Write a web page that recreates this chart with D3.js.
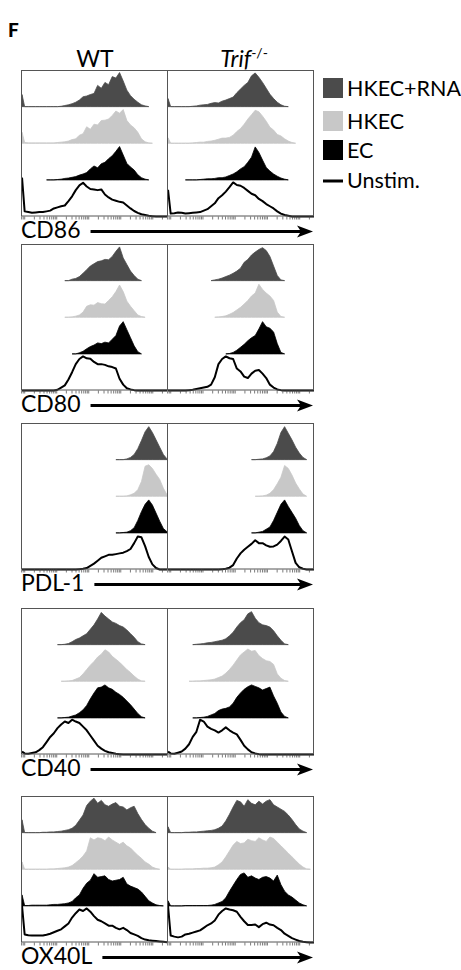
<!DOCTYPE html>
<html><head><meta charset="utf-8">
<script src="https://cdn.jsdelivr.net/npm/d3@7/dist/d3.min.js"></script>
<style>body{margin:0;background:#fff} svg{display:block}</style>
</head><body>
<svg id="chart" width="461" height="970"></svg>
<script>
const _ = null;
// ---------- categories ----------
const markers = ["CD86", "CD80", "PDL-1", "CD40", "OX40L"];
const genotypes = ["WT", "Trif"];
const conditions = ["HKEC+RNA", "HKEC", "EC", "Unstim."];
// fluorescence bins (percent of each sub-panel axis)
const binPos = [0.7,2.5,5,7.5,10,12.5,15,17.5,20,22.5,25,27.5,30,32.5,35,37.5,40,42.5,45,47.5,50,52.5,55,57.5,60,62.5,65,67.5,70,72.5,75,77.5,80,82.5,85,87.5,90,92.5,95,97.5,100];
// axis decades (log, no labels)
const axisDomain = [7.94, 288000];

// ---------- series values (relative counts, % of row height) ----------
// CD86
const cd86_wt_rna  = [33,0,0,0,0,0,0,0,0,0, 0,1,3,5,8,12,18,27,29,33, 36,58,50,66,60,82,78,93,70,45, 30,20,12,5,2,0,_,_,_,_, _];
const cd86_wt_hkec = [30,2,1,1,1,1,1,1,1,1, 2,3,4,6,10,12,22,26,45,38, 52,50,62,63,66,76,88,82,92,62, 50,42,30,12,4,1,0,_,_,_, _];
const cd86_wt_ec   = [_,_,_,_,_,_,_,0,0,0, 1,2,4,5,7,9,13,16,20,30, 38,33,44,48,58,66,78,91,68,45, 35,27,14,6,2,0,_,_,_,_, _];
const cd86_wt_un   = [106,14,12,10,11,12,12,14,16,22, 25,28,30,42,55,72,85,92,82,75, 74,72,74,60,52,46,43,40,38,30, 22,15,10,6,4,2,1,0,0,0, 0];
const cd86_tr_rna  = [22,0,0,0,0,0,0,1,2,4, 5,6,9,11,10,15,18,22,26,38, 48,58,66,84,92,80,66,50,34,22, 12,5,1,0,_,_,_,_,_,_, _];
const cd86_tr_hkec = [15,0,0,0,0,0,0,1,2,3, 3,5,6,8,11,14,14,16,22,32, 40,52,66,78,90,86,74,60,44,36, 24,20,12,6,2,0,_,_,_,_, _];
const cd86_tr_ec   = [_,_,_,_,_,0,0,0,0,1, 2,3,3,4,6,6,8,12,16,22, 30,36,48,62,90,75,54,34,24,16, 10,5,2,0,_,_,_,_,_,_, _];
const cd86_tr_un   = [73,8,9,11,10,8,9,10,11,12, 16,20,28,36,50,58,68,80,93,86, 84,78,70,62,58,48,42,34,28,22, 14,8,4,2,0,0,0,0,0,0, 0];
// CD80
const cd80_wt_rna  = [_,_,_,_,_,_,_,_,_,_, _,_,0,0,4,6,11,20,30,40, 46,52,54,58,57,66,80,92,62,44, 26,14,4,0,_,_,_,_,_,_, _];
const cd80_wt_hkec = [_,_,_,_,_,_,_,_,_,_, _,_,0,0,1,3,6,14,30,34, 33,40,37,36,46,56,70,88,70,44, 30,18,6,2,0,_,_,_,_,_, _];
const cd80_wt_ec   = [_,_,_,_,_,_,_,_,_,_, _,_,_,_,0,0,3,7,14,20, 24,30,28,32,30,40,50,76,88,66, 44,22,6,0,_,_,_,_,_,_, _];
const cd80_wt_un   = [0,0,0,0,0,0,0,0,0,0, 2,8,14,30,50,72,86,93,88,87, 78,72,72,70,66,64,60,32,16,6, 3,1,0,0,0,0,0,0,0,0, 0];
const cd80_tr_rna  = [_,_,_,_,_,_,_,_,_,_, _,_,0,2,4,7,11,15,20,26, 34,50,58,70,78,85,90,82,66,40, 14,2,0,_,_,_,_,_,_,_, _];
const cd80_tr_hkec = [_,_,_,_,_,_,_,_,_,_, _,_,_,0,1,2,4,8,13,20, 27,36,46,58,66,90,76,66,58,46, 14,2,0,_,_,_,_,_,_,_, _];
const cd80_tr_ec   = [_,_,_,_,_,_,_,_,_,_, _,_,_,_,_,_,0,1,4,10, 18,26,36,44,50,68,88,74,70,60, 28,4,0,_,_,_,_,_,_,_, _];
const cd80_tr_un   = [0,0,0,0,0,0,1,2,4,6, 8,10,16,36,72,86,93,88,86,60, 52,38,34,46,54,56,46,34,16,8, 3,1,0,0,0,0,0,0,0,0, 0];
// PDL-1
const pdl1_wt_rna  = [_,_,_,_,_,_,_,_,_,_, _,_,_,_,_,_,_,_,_,_, _,_,_,_,_,_,0,0,0,2, 6,14,30,52,76,90,74,54,34,14, 2];
const pdl1_wt_hkec = [_,_,_,_,_,_,_,_,_,_, _,_,_,_,_,_,_,_,_,_, _,_,_,_,_,_,0,0,0,1, 4,8,18,40,82,86,76,60,46,22, 4];
const pdl1_wt_ec   = [_,_,_,_,_,_,_,_,_,_, _,_,_,_,_,_,_,_,_,_, _,_,_,_,_,_,0,0,1,2, 6,14,34,58,78,90,76,54,32,12, 3];
const pdl1_wt_un   = [0,0,0,0,0,0,0,0,0,0, 0,0,0,0,0,0,1,2,4,10, 16,24,32,36,40,40,42,44,46,50, 56,72,90,88,64,34,14,4,0,0, 0];
const pdl1_tr_rna  = [_,_,_,_,_,_,_,_,_,_, _,_,_,_,_,_,_,_,_,_, _,_,_,0,0,1,2,5,10,22, 44,74,90,72,54,34,18,6,0,_, _];
const pdl1_tr_hkec = [_,_,_,_,_,_,_,_,_,_, _,_,_,_,_,_,_,_,_,_, _,_,_,_,0,0,1,3,8,18, 34,52,84,76,58,36,20,6,0,_, _];
const pdl1_tr_ec   = [_,_,_,_,_,_,_,_,_,_, _,_,_,_,_,_,_,_,_,_, _,_,_,0,0,2,4,10,16,34, 56,78,90,72,56,40,20,6,0,_, _];
const pdl1_tr_un   = [0,0,0,0,0,0,0,0,0,0, 0,0,0,0,0,1,2,5,12,30, 44,54,62,70,80,72,72,66,62,63, 68,78,90,82,50,18,6,2,0,0, 0];
// CD40
const cd40_wt_rna  = [_,_,_,_,_,_,_,_,_,_, 0,0,1,3,8,14,18,24,30,42, 54,70,88,78,70,62,58,52,48,40, 30,20,8,2,0,_,_,_,_,_, _];
const cd40_wt_hkec = [_,_,_,_,_,_,_,_,_,_, _,0,0,1,2,6,10,20,32,44, 54,66,74,86,80,68,60,52,42,32, 24,14,6,1,0,_,_,_,_,_, _];
const cd40_wt_ec   = [_,_,_,_,_,_,_,_,_,_, 0,0,1,2,5,8,14,22,34,52, 68,82,84,90,82,78,70,64,56,46, 36,24,12,3,0,_,_,_,_,_, _];
const cd40_wt_un   = [8,3,2,4,6,12,20,34,48,58, 72,82,90,86,95,90,86,76,66,52, 38,24,16,10,6,4,2,1,0,0, 0,0,0,0,0,0,0,0,0,0, 0];
const cd40_tr_rna  = [_,_,_,_,_,_,_,0,1,2, 3,5,6,8,10,12,16,24,34,48, 60,68,84,90,72,60,54,52,48,38, 24,12,2,0,_,_,_,_,_,_, _];
const cd40_tr_hkec = [_,_,_,_,_,_,0,0,1,1, 2,3,4,6,10,14,22,32,44,58, 72,80,88,82,84,70,62,56,54,46, 20,8,2,0,_,_,_,_,_,_, _];
const cd40_tr_ec   = [_,_,_,_,_,_,_,0,0,1, 2,4,8,12,20,24,26,30,40,56, 68,78,85,90,86,82,76,80,84,60, 40,16,4,0,_,_,_,_,_,_, _];
const cd40_tr_un   = [8,3,2,5,8,16,28,48,62,95, 90,76,70,66,60,66,74,66,60,55, 40,24,14,6,3,1,0,0,0,0, 0,0,0,0,0,0,0,0,0,0, 0];
// OX40L
const ox40l_wt_rna  = [35,0,0,0,0,0,1,1,2,2, 3,4,6,8,12,20,34,48,74,86, 94,80,88,76,72,78,82,72,70,62, 68,72,52,36,22,12,4,0,_,_, _];
const ox40l_wt_hkec = [20,0,0,0,0,0,0,0,1,1, 2,3,4,6,10,18,26,36,50,86, 80,86,84,78,88,80,74,68,74,64, 58,48,38,30,20,14,6,2,0,_, _];
const ox40l_wt_ec   = [30,1,1,2,2,2,2,2,3,4, 4,5,6,8,12,22,30,48,62,70, 88,78,80,82,72,68,70,72,78,60, 54,50,46,38,26,14,8,3,1,0, _];
const ox40l_wt_un   = [100,22,20,19,19,19,19,21,24,28, 32,36,44,52,68,80,90,86,93,84, 72,62,58,52,46,46,40,36,40,34, 26,22,18,12,8,6,5,4,3,2, 1];
const ox40l_tr_rna  = [16,0,0,0,0,1,1,2,2,3, 4,5,6,8,12,18,32,50,70,88, 84,72,90,80,76,86,78,86,90,76, 70,64,58,48,36,22,10,4,0,_, _];
const ox40l_tr_hkec = [6,0,0,0,0,1,1,1,2,2, 3,3,4,6,12,20,34,50,66,76, 70,72,82,78,76,86,80,76,88,84, 74,64,54,44,34,24,14,6,1,0, _];
const ox40l_tr_ec   = [14,0,0,0,0,1,1,1,1,1, 1,1,2,4,8,12,22,40,56,72, 86,90,78,82,76,72,78,80,76,68, 84,58,40,30,24,16,8,3,0,_, _];
const ox40l_tr_un   = [100,19,16,14,16,22,24,27,30,33, 40,47,52,60,76,86,93,90,88,84, 70,58,48,48,49,42,50,54,49,47, 40,34,24,18,12,8,4,2,1,0, 0];

const seriesTable = {
  "CD86":  [[cd86_wt_rna, cd86_wt_hkec, cd86_wt_ec, cd86_wt_un], [cd86_tr_rna, cd86_tr_hkec, cd86_tr_ec, cd86_tr_un]],
  "CD80":  [[cd80_wt_rna, cd80_wt_hkec, cd80_wt_ec, cd80_wt_un], [cd80_tr_rna, cd80_tr_hkec, cd80_tr_ec, cd80_tr_un]],
  "PDL-1": [[pdl1_wt_rna, pdl1_wt_hkec, pdl1_wt_ec, pdl1_wt_un], [pdl1_tr_rna, pdl1_tr_hkec, pdl1_tr_ec, pdl1_tr_un]],
  "CD40":  [[cd40_wt_rna, cd40_wt_hkec, cd40_wt_ec, cd40_wt_un], [cd40_tr_rna, cd40_tr_hkec, cd40_tr_ec, cd40_tr_un]],
  "OX40L": [[ox40l_wt_rna, ox40l_wt_hkec, ox40l_wt_ec, ox40l_wt_un], [ox40l_tr_rna, ox40l_tr_hkec, ox40l_tr_ec, ox40l_tr_un]]
};

// ---------- layout ----------
const FONT = "Lato, 'Open Sans', sans-serif";
const panelTops = [70, 244, 423, 608, 796];
const panelH = 146.5;
const subX = [21, 167];
const subW = [146, 147];
const fills = ["#4b4b4b", "#c8c8c8", "#000000"];
const svg = d3.select("#chart");

// title + headers
svg.append("text").attr("x", 8).attr("y", 37).attr("font-family", FONT).attr("font-weight", 900)
  .attr("font-size", 19).text("F");
svg.append("text").attr("x", 95).attr("y", 67).attr("text-anchor", "middle").attr("font-family", FONT)
  .attr("font-size", 23).text("WT");
const th = svg.append("text").attr("x", 244).attr("y", 67).attr("text-anchor", "middle")
  .attr("font-family", FONT).attr("font-size", 23);
th.append("tspan").attr("font-style", "italic").text("Trif");
th.append("tspan").attr("font-size", 14).attr("dy", -9).text("-/-");

const xs = subX.map((x0, g) => d3.scaleLinear().domain([0, 100]).range([x0, x0 + subW[g]]));
const xAxisScales = subX.map((x0, g) => d3.scaleLog().domain(axisDomain).range([x0, x0 + subW[g]]));
const rowH = panelH / 4;
const yv = d3.scaleLinear().domain([0, 100]).range([0, rowH]);

markers.forEach((m, mi) => {
  const top = panelTops[mi], bottom = top + panelH;
  const pg = svg.append("g");
  genotypes.forEach((gname, g) => {
    const sx = xs[g];
    seriesTable[m][g].forEach((vals, r) => {
      const base = top + (r + 1) * rowH;
      const pts = binPos.map((p, i) => [p, vals[i]]);
      if (r < 3) {
        const area = d3.area().defined(d => d[1] != null)
          .x(d => sx(d[0])).y0(base).y1(d => base - yv(d[1]));
        pg.append("path").attr("d", area(pts)).attr("fill", fills[r])
          .attr("stroke", fills[r]).attr("stroke-width", 0.8);
      } else {
        const line = d3.line().defined(d => d[1] != null)
          .x(d => sx(d[0])).y(d => base - yv(d[1]));
        pg.append("path").attr("d", line(pts)).attr("fill", "none")
          .attr("stroke", "#000").attr("stroke-width", 2).attr("stroke-linejoin", "round");
      }
    });
    // tick marks under the sub-panel
    const ax = d3.axisBottom(xAxisScales[g]).ticks(10).tickSize(3).tickFormat("");
    const ag = pg.append("g").attr("transform", `translate(0,${bottom})`).call(ax);
    ag.select(".domain").remove();
    ag.selectAll("line").attr("stroke", "#444").attr("stroke-width", 0.7);
  });
  // frame
  pg.append("rect").attr("x", subX[0] + 0.5).attr("y", top + 0.5)
    .attr("width", subX[1] + subW[1] - subX[0] - 1).attr("height", panelH - 1)
    .attr("fill", "none").attr("stroke", "#555").attr("stroke-width", 1);
  pg.append("line").attr("x1", subX[1] + 0.5).attr("x2", subX[1] + 0.5)
    .attr("y1", top).attr("y2", bottom).attr("stroke", "#555").attr("stroke-width", 1);
  // marker label + arrow
  const lab = pg.append("text").attr("x", 21).attr("y", bottom + 21).attr("font-family", FONT)
    .attr("font-size", 23).text(m);
  const bb = lab.node().getBBox();
  const ay = bottom + 15;
  const aEnd = 313;
  pg.append("line").attr("x1", bb.x + bb.width + 10).attr("x2", aEnd - 10)
    .attr("y1", ay).attr("y2", ay).attr("stroke", "#000").attr("stroke-width", 3);
  pg.append("path").attr("d", `M${aEnd},${ay} L${aEnd - 16},${ay - 6} L${aEnd - 12},${ay} L${aEnd - 16},${ay + 6} Z`)
    .attr("fill", "#000");
});

// legend
const legendY = [88, 121, 150, 180];
const lg = svg.append("g");
conditions.forEach((c, i) => {
  const cy = legendY[i];
  if (i < 3) {
    lg.append("rect").attr("x", 323).attr("y", cy - 10).attr("width", 20).attr("height", 20)
      .attr("fill", fills[i]);
  } else {
    lg.append("line").attr("x1", 323).attr("x2", 343).attr("y1", cy + 1).attr("y2", cy + 1)
      .attr("stroke", "#000").attr("stroke-width", 3);
  }
  lg.append("text").attr("x", 347).attr("y", cy + 8).attr("font-family", FONT)
    .attr("font-size", 21.5).text(c);
});
</script>
</body></html>
